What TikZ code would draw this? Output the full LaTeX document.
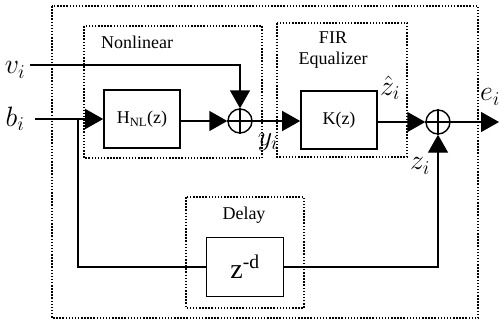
\documentclass[tikz,border=0pt]{standalone}
\usepackage{fix-cm}
\usepackage{fontspec}
\setmainfont{Liberation Serif}
\usetikzlibrary{arrows.meta, positioning, calc}

\tikzset{
  blockbox/.style={draw, line width=1.6pt, minimum width=76pt, minimum height=58pt,
                   inner sep=0pt, font=\fontsize{18}{20}\selectfont},
  sumnode/.style={draw, circle, line width=1.4pt, minimum size=24pt, inner sep=0pt},
  dotframe/.style={line width=1.5pt, dash pattern=on 1.5pt off 1.6pt},
  wire/.style={line width=1.4pt},
  sig/.style={wire, -{Triangle[length=18pt, width=20pt]}},
  siglabel/.style={font=\fontsize{28}{30}\selectfont, inner sep=0pt},
  boxtitle/.style={font=\fontsize{18}{20}\selectfont, inner sep=1pt}
}

\begin{document}
\begin{tikzpicture}[x=1pt, y=-1pt]
      \useasboundingbox (0,0) rectangle (503,324);

      % dotted frames
      \draw[dotframe] (52,6) rectangle (478,318);
      \draw[dotframe] (84,26) rectangle (262,158);
      \draw[dotframe] (277,23) rectangle (407,157);
      \draw[dotframe] (186,197) rectangle (304,308);
      \node[boxtitle] (nltitle) at (137,42) {Nonlinear};
      \node[boxtitle] (firtitle) at (333,38) {FIR};
      \node[boxtitle] (eqtitle) at (333,60) {Equalizer};
      \node[boxtitle] (dltitle) at (244,215) {Delay};

      % blocks
      \node[blockbox] (hnl) at (142,119) {H\textsubscript{NL}(z)};
      \node[blockbox] (kz) at (339,120) {K(z)};
      \node[blockbox, minimum width=77pt, minimum height=59pt] (zd) at (245,267)
        {\fontsize{28}{30}\selectfont z\textsuperscript{-d}};
      \node[sumnode] (s1) at (240,121) {};
      \node[sumnode] (s2) at (438,122) {};
      \draw[wire] (s1.north) -- (s1.south) (s1.west) -- (s1.east);
      \draw[wire] (s2.north) -- (s2.south) (s2.west) -- (s2.east);

      % signals
      \coordinate (vin) at (30,65);
      \coordinate (bin) at (35,119);
      \coordinate (tap) at (78,119);
      \coordinate (eout) at (499,122);
      \node[siglabel] (vi) at (15,70) {$v_i$};
      \node[siglabel] (bi) at (15,119) {$b_i$};
      \node[siglabel] (yi) at (268,142) {$y_i$};
      \node[siglabel] (zhat) at (390,88) {$\hat{z}_i$};
      \node[siglabel] (zi) at (420,166) {$z_i$};
      \node[siglabel] (ei) at (490,97) {$e_i$};

      \draw[sig] (vin) -| (s1.north);
      \draw[sig] (bin) -- (hnl.west);
      \draw[sig] (hnl.east |- s1) -- (s1.west);
      \draw[sig] (s1.east) -- (kz.west |- s1);
      \draw[sig] (kz.east |- s2) -- (s2.west);
      \draw[sig] (s2.east) -- (eout);
      \draw[wire] (tap) |- (zd.west);
      \draw[sig] (zd.east) -| (s2.south);
    \end{tikzpicture}
\end{document}
